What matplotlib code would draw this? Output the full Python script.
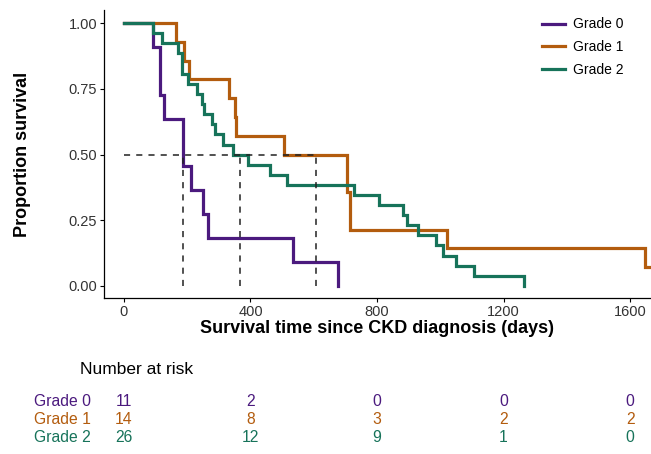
import matplotlib
matplotlib.use('Agg')
import matplotlib.pyplot as plt
from matplotlib.transforms import blended_transform_factory

plt.rcParams['font.family'] = ['Liberation Sans', 'DejaVu Sans']

# Kaplan-Meier curves (days, proportion surviving)
grade0_t = [0, 91, 114, 127, 187, 211, 251, 265, 535, 677]
grade0_s = [1.0, 0.909, 0.727, 0.636, 0.455, 0.364, 0.273, 0.182, 0.091, 0.0]

grade1_t = [0, 164, 191, 206, 333, 350, 354, 506, 706, 714, 1020, 1647, 1700]
grade1_s = [1.0, 0.929, 0.857, 0.786, 0.714, 0.643, 0.571, 0.5, 0.357, 0.214, 0.143, 0.071, 0.071]

grade2_t = [0, 91, 119, 172, 182, 203, 232, 246, 253, 277, 288, 314, 344, 393,
            462, 514, 726, 807, 881, 894, 931, 986, 1007, 1050, 1107, 1263]
grade2_s = [1.0, 0.962, 0.923, 0.885, 0.808, 0.769, 0.731, 0.692, 0.654, 0.615,
            0.577, 0.538, 0.5, 0.462, 0.423, 0.385, 0.346, 0.308, 0.269, 0.231,
            0.192, 0.154, 0.115, 0.077, 0.038, 0.0]

medians = [187, 368, 606]

groups = ['Grade 0', 'Grade 1', 'Grade 2']
colors = ['#4b1a7e', '#b35c0e', '#17735a']

risk_times = [0, 400, 800, 1200, 1600]
risk_grade0 = [11, 2, 0, 0, 0]
risk_grade1 = [14, 8, 3, 2, 2]
risk_grade2 = [26, 12, 9, 1, 0]

fig = plt.figure(figsize=(6.51, 4.54), dpi=100)
ax = fig.add_axes([104/651, 1 - 298/454, 1 - 104/651, (298 - 10)/454])

curves = [(grade0_t, grade0_s), (grade1_t, grade1_s), (grade2_t, grade2_s)]
for (t, s), name, c in zip(curves, groups, colors):
    ax.step(t, s, where='post', color=c, lw=2.3, label=name, solid_joinstyle='miter')

# median survival lines
ax.plot([0, max(medians)], [0.5, 0.5], ls=(0, (4, 4)), color='#222222', lw=1.1)
for m in medians:
    ax.plot([m, m], [0, 0.5], ls=(0, (4, 4)), color='#222222', lw=1.1)

ax.set_xlim(-63, 1666)
ax.set_ylim(-0.046, 1.05)
ax.set_xticks([0, 400, 800, 1200, 1600])
ax.set_yticks([0, 0.25, 0.5, 0.75, 1.0])
ax.set_yticklabels(['0.00', '0.25', '0.50', '0.75', '1.00'])
ax.tick_params(labelsize=10.5, colors='black', labelcolor='#333333', length=3, width=0.8, pad=2)
for side in ['top', 'right']:
    ax.spines[side].set_visible(False)
for side in ['left', 'bottom']:
    ax.spines[side].set_linewidth(0.9)

ax.set_xlabel('Survival time since CKD diagnosis (days)', fontsize=13, fontweight='bold', labelpad=1)
ax.set_ylabel('Proportion survival', fontsize=13, fontweight='bold')
ax.yaxis.set_label_coords(-0.133, 0.5)

ax.legend(loc='upper left', bbox_to_anchor=(529/651, 1 - 5/454), bbox_transform=fig.transFigure,
          frameon=False, fontsize=10, handlelength=1.7, handletextpad=0.6, labelspacing=0.62)

# number at risk table
tr = blended_transform_factory(ax.transData, fig.transFigure)
fig.text(80/651, 1 - 369/454, 'Number at risk', fontsize=12.5, va='center', ha='left')
rows = [risk_grade0, risk_grade1, risk_grade2]
row_y = [402, 420, 437]
for vals, name, c, y in zip(rows, groups, colors, row_y):
    fig.text(91/651, 1 - y/454, name, fontsize=11.3, color=c, ha='right', va='center')
    for t, v in zip(risk_times, vals):
        ax.text(t, 1 - y/454, str(v), transform=tr, fontsize=11.3, color=c,
                ha='center', va='center', clip_on=False)

fig.savefig('out.png', dpi=100)
